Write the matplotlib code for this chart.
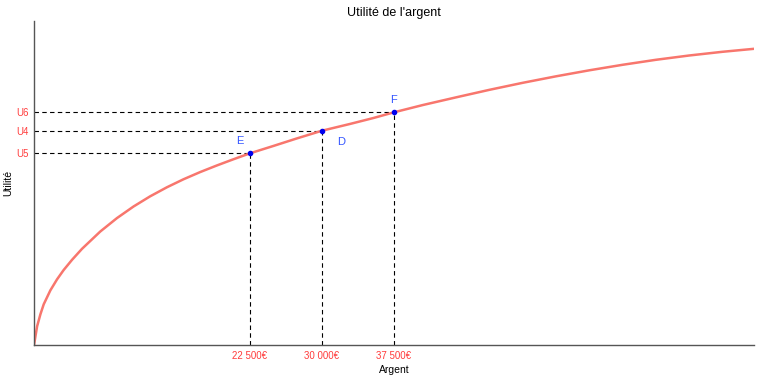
import matplotlib
matplotlib.use("Agg")
import matplotlib.pyplot as plt

plt.rcParams['font.family'] = ['Liberation Sans', 'DejaVu Sans']

# courbe d'utilité (euros, utilité en unités arbitraires)
argent = [0, 327, 670, 1014, 1710, 2406, 3093, 3966, 5005, 6907, 8643, 10369,
          12105, 13841, 15567, 17303, 19038, 20764, 22500, 24922, 27355, 30000,
          32895, 35317, 37500, 40515, 43987, 47448, 50910, 54382, 57843, 61304,
          64776, 68238, 71700, 75000]
utilite = [0, 19, 31, 41, 55, 66, 75.3, 85.5, 96.5, 113.8, 127.2, 138.8,
           149, 158, 166, 173.2, 179.8, 186, 192, 199.3, 206.8, 214.6,
           221.3, 227.2, 233, 240.3, 248, 255.5, 262.5, 269, 275, 280.5,
           285.5, 289.8, 293.5, 296.5]

# points remarquables
pt_noms = ['E', 'D', 'F']
pt_argent = [22500, 30000, 37500]
pt_utilite = [192, 214.6, 233]
pt_u_labels = ['U5', 'U4', 'U6']
pt_x_labels = ['22 500€', '30 000€', '37 500€']

fig = plt.figure(figsize=(7.6, 3.8), dpi=100)
ax = fig.add_axes([0.0447, 0.0913, 0.9474, 0.8542])

ax.plot(argent, utilite, color='#F8766D', lw=1.8, zorder=2,
        solid_joinstyle='round')

for x, y in zip(pt_argent, pt_utilite):
    ax.plot([0, x], [y, y], ls=(0, (4, 3)), color='black', lw=0.8, zorder=1)
    ax.plot([x, x], [0, y], ls=(0, (4, 3)), color='black', lw=0.8, zorder=1)
ax.scatter(pt_argent, pt_utilite, s=9, color='#0000EE', zorder=3)

# position des lettres autour des points
offs = {'E': (-7.2, 8.6), 'D': (13.7, -8), 'F': (0, 8.6)}
for n, x, y in zip(pt_noms, pt_argent, pt_utilite):
    ax.annotate(n, (x, y), xytext=offs[n], textcoords='offset points',
                ha='center', va='center', color='#3355FF', fontsize=8)

ax.set_xlim(0, 75000)
ax.set_ylim(0, 324.6)
ax.set_xticks(pt_argent)
ax.set_xticklabels(pt_x_labels)
ax.set_yticks(pt_utilite)
ax.set_yticklabels(pt_u_labels)
ax.tick_params(length=0, labelsize=7, labelcolor='#FF3B3B', pad=4)

for s in ['top', 'right']:
    ax.spines[s].set_visible(False)
for s in ['left', 'bottom']:
    ax.spines[s].set_color('#555555')
    ax.spines[s].set_linewidth(1.0)

ax.set_xlabel('Argent', fontsize=7.5, labelpad=3)
ax.set_ylabel('Utilité', fontsize=7.5)
ax.yaxis.set_label_coords(-0.029, 0.5)
ax.set_title("Utilité de l'argent", fontsize=9, pad=3.5)

fig.savefig('out.png', dpi=100)
